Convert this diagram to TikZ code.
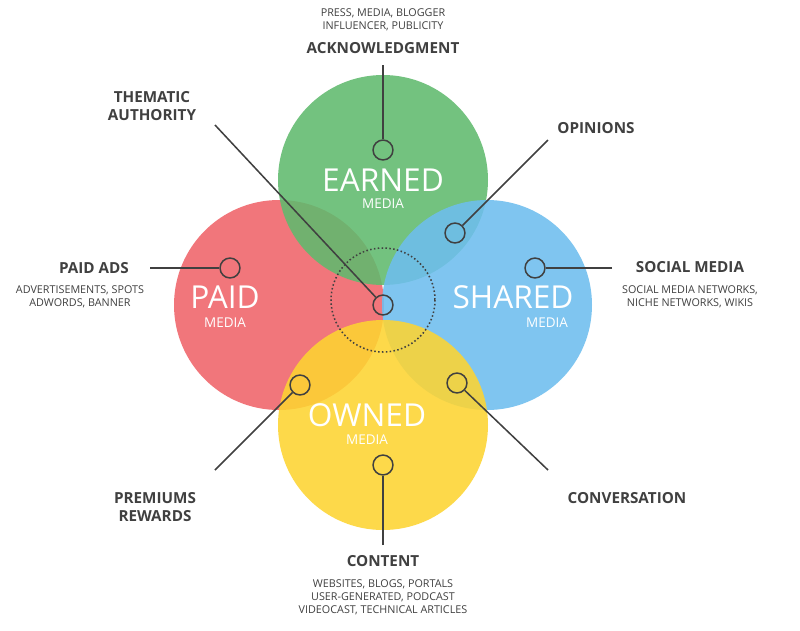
\documentclass[tikz,border=0pt]{standalone}
\usepackage{fontspec}
\setmainfont{Open Sans}
\begin{document}
\begin{tikzpicture}[x=0.03cm,y=-0.03cm,
  big/.style={fill opacity=0.88,draw=none},
  lead/.style={draw=black!75,line width=1.3pt},
  dot/.style={circle,draw=black!75,line width=1.3pt,minimum size=17,inner sep=0},
  title/.style={text=black!75,font=\fontsize{13}{15}\selectfont\bfseries},
  sub/.style={text=black!75,font=\fontsize{9.2}{11}\selectfont,align=center},
  ctitle/.style={text=white,font=\fontsize{27}{29}\selectfont},
  cmed/.style={text=white,font=\fontsize{11.5}{12}\selectfont}]
\useasboundingbox (0,0) rectangle (800,630);
\fill[white] (0,0) rectangle (800,630);
\fill[big,fill={rgb,255:red,240;green,100;blue,105}] (279,305) circle (105);
\fill[big,fill={rgb,255:red,96;green,186;blue,110}] (383,180) circle (105);
\fill[big,fill={rgb,255:red,110;green,190;blue,238}] (487,305) circle (105);
\fill[big,fill={rgb,255:red,253;green,212;blue,50}] (383,425) circle (105);
\draw[black!75,line width=1.3pt,dotted] (383,300) circle (52);
\node[ctitle] (te) at (383,180) {EARNED};
\node[cmed] (me) at (383,204) {MEDIA};
\node[ctitle] (tp) at (225,297) {PAID};
\node[cmed] (mp) at (225,323) {MEDIA};
\node[ctitle] (ts) at (513,297) {SHARED};
\node[cmed] (ms) at (547,323) {MEDIA};
\node[ctitle] (to) at (367,415) {OWNED};
\node[cmed] (mo) at (367,440) {MEDIA};
\node[dot] (dc) at (383,305) {};
\node[dot] (dk) at (383,150) {};
\node[dot] (dop) at (455,233) {};
\node[dot] (dsm) at (535,268) {};
\node[dot] (dcv) at (457,383) {};
\node[dot] (dct) at (383,465) {};
\node[dot] (dpr) at (300,385) {};
\node[dot] (dpa) at (230,268) {};
\coordinate (ea) at (215,125);
\coordinate (ek) at (383,65);
\coordinate (eop) at (548,140);
\coordinate (esm) at (612,268);
\coordinate (ecv) at (548,470);
\coordinate (ect) at (383,545);
\coordinate (epr) at (215,470);
\coordinate (epa) at (150,268);
\draw[lead] (ea) -- (dc);
\draw[lead] (ek) -- (dk);
\draw[lead] (eop) -- (dop);
\draw[lead] (esm) -- (dsm);
\draw[lead] (ecv) -- (dcv);
\draw[lead] (ect) -- (dct);
\draw[lead] (epr) -- (dpr);
\draw[lead] (epa) -- (dpa);
\node[sub] (s1) at (383,20) {PRESS, MEDIA, BLOGGER\\INFLUENCER, PUBLICITY};
\node[title] (l1) at (383,48) {ACKNOWLEDGMENT};
\node[title,align=center] (l2) at (152,106) {THEMATIC\\AUTHORITY};
\node[title] (l3) at (596,128) {OPINIONS};
\node[title] (l4) at (690,267) {SOCIAL MEDIA};
\node[sub] (s4) at (690,297) {SOCIAL MEDIA NETWORKS,\\NICHE NETWORKS, WIKIS};
\node[title] (l5) at (627,498) {CONVERSATION};
\node[title] (l6) at (383,561) {CONTENT};
\node[sub] (s6) at (383,597) {WEBSITES, BLOGS, PORTALS\\USER-GENERATED, PODCAST\\VIDEOCAST, TECHNICAL ARTICLES};
\node[title,align=center] (l7) at (155,507) {PREMIUMS\\REWARDS};
\node[title] (l8) at (94,268) {PAID ADS};
\node[sub] (s8) at (80,297) {ADVERTISEMENTS, SPOTS\\ADWORDS, BANNER};
\end{tikzpicture}
\end{document}
